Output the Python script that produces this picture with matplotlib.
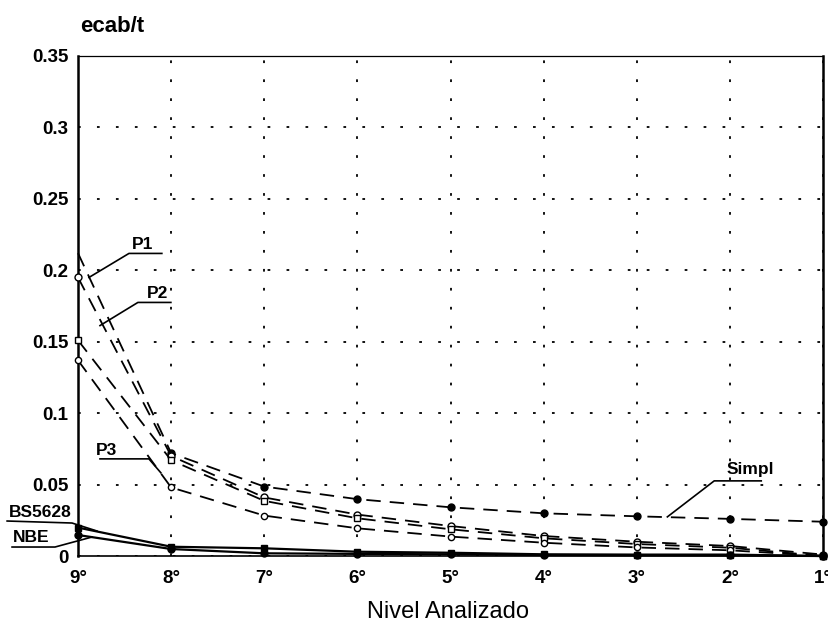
import matplotlib.pyplot as plt

plt.rcParams['font.family'] = ['Liberation Sans', 'DejaVu Sans']

# niveles analizados (9º a 1º)
niveles = ["9°", "8°", "7°", "6°", "5°", "4°", "3°", "2°", "1°"]
pos = list(range(len(niveles)))

# ecab/t
simpl = [0.212, 0.072, 0.0486, 0.0398, 0.0341, 0.0299, 0.0278, 0.026, 0.024]
p1 = [0.195, 0.070, 0.041, 0.029, 0.021, 0.014, 0.010, 0.007, 0.001]
p2 = [0.151, 0.067, 0.0386, 0.0264, 0.0187, 0.0124, 0.0084, 0.0058, 0.0]
p3 = [0.137, 0.048, 0.0283, 0.0194, 0.0136, 0.0093, 0.006, 0.004, 0.0]
bs5628 = [0.0199, 0.0065, 0.0054, 0.003, 0.0023, 0.0012, 0.001, 0.001, 0.0]
nbe = [0.0147, 0.0049, 0.0019, 0.0015, 0.0012, 0.0007, 0.0005, 0.0004, 0.0]

fig = plt.figure(figsize=(8.29, 6.27), dpi=100)
ax = fig.add_axes([0.0941, 0.1132, 0.8989, 0.7975])

dash = (0, (8, 5))
ax.plot(pos, simpl, color="black", lw=1.3, linestyle=dash, marker="o", ms=5,
        mfc="black", mec="black", markevery=pos[1:], clip_on=False, zorder=3)
ax.plot(pos, p1, color="black", lw=1.3, linestyle=dash, marker="o", ms=5,
        mfc="white", mec="black", clip_on=False, zorder=3)
ax.plot(pos, p2, color="black", lw=1.3, linestyle=dash, marker="s", ms=5,
        mfc="white", mec="black", clip_on=False, zorder=3)
ax.plot(pos, p3, color="black", lw=1.3, linestyle=dash, marker="o", ms=4.5,
        mfc="white", mec="black", clip_on=False, zorder=3)
ax.plot(pos, bs5628, color="black", lw=1.6, marker="s", ms=5,
        mfc="black", mec="black", clip_on=False, zorder=4)
ax.plot(pos, nbe, color="black", lw=1.6, marker="o", ms=5,
        mfc="black", mec="black", clip_on=False, zorder=4)

ax.set_xlim(0, 8)
ax.set_ylim(0, 0.35)
ax.set_xticks(pos)
ax.set_xticklabels(niveles)
ax.set_yticks([0, 0.05, 0.1, 0.15, 0.2, 0.25, 0.3, 0.35])
ax.set_yticklabels(["0", "0.05", "0.1", "0.15", "0.2", "0.25", "0.3", "0.35"])
ax.tick_params(axis="y", length=0, labelsize=13.5, pad=7)
ax.tick_params(axis="x", length=0, labelsize=13.5, pad=10)
for lab in ax.get_xticklabels() + ax.get_yticklabels():
    lab.set_fontweight("bold")

ax.grid(True, color="black", lw=1.3, linestyle=(0, (1.5, 9)))
ax.spines["left"].set_linewidth(1.8)
ax.spines["right"].set_linewidth(1.8)
ax.spines["top"].set_linewidth(0.9)
ax.spines["bottom"].set_linewidth(1.2)

fig.text(0.135, 0.958, "ecab/t", fontsize=16, fontweight="bold", ha="center", va="center")
fig.text(0.54, 0.024, "Nivel Analizado", fontsize=17, ha="center", va="center")

# etiquetas con linea guia
def guia(pts, texto, tx, ty):
    xs = [p[0] for p in pts]
    ys = [p[1] for p in pts]
    ax.plot(xs, ys, color="black", lw=1.2, clip_on=False, zorder=5)
    ax.text(tx, ty, texto, fontsize=12.5, fontweight="bold", ha="center", va="bottom")

guia([(0.118, 0.195), (0.547, 0.2118), (0.90, 0.2118)], "P1", 0.69, 0.2125)
guia([(0.236, 0.1613), (0.643, 0.1775), (0.997, 0.1775)], "P2", 0.85, 0.1782)
guia([(0.236, 0.068), (0.761, 0.068), (0.89, 0.0582)], "P3", 0.31, 0.0687)
guia([(6.327, 0.0274), (6.83, 0.0526), (7.335, 0.0526)], "Simpl", 7.22, 0.0555)
guia([(-0.761, 0.0245), (-0.064, 0.0231), (0.204, 0.0175)], "BS5628", -0.40, 0.025)
guia([(-0.708, 0.0063), (-0.247, 0.0063), (0.150, 0.0133)], "NBE", -0.50, 0.0075)

fig.savefig("out.png", dpi=100)
